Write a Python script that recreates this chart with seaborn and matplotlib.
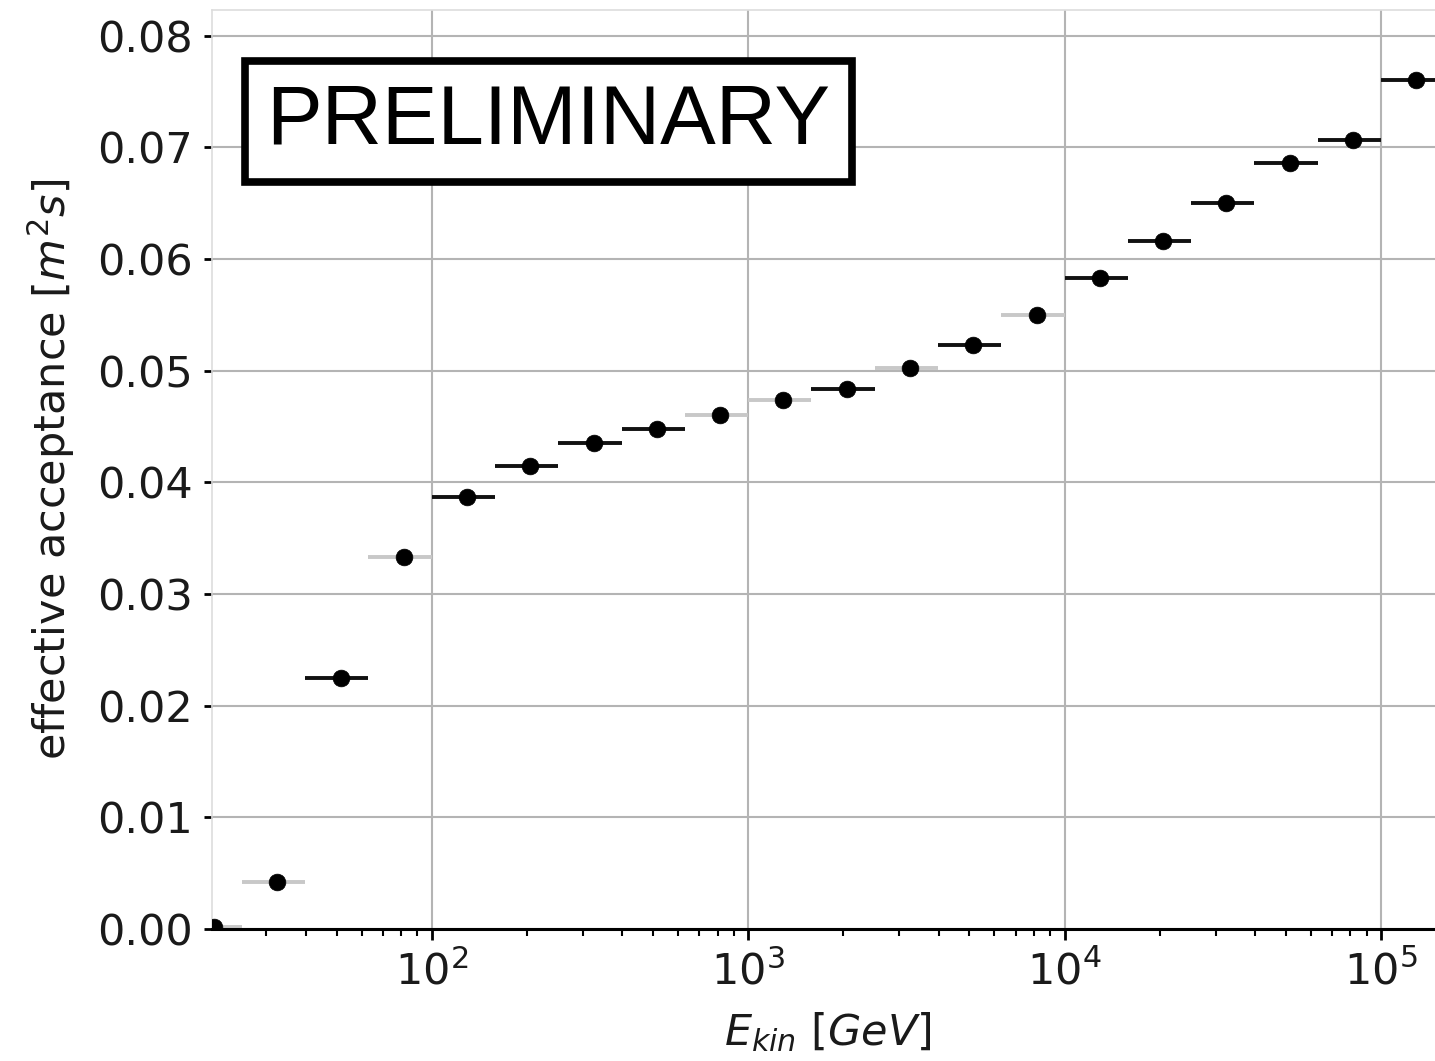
import matplotlib
matplotlib.use("Agg")
import matplotlib.pyplot as plt
import seaborn as sns
import numpy as np

# bin edges (GeV)
e_low = [15.85, 25.12, 39.81, 63.10, 100.0, 158.5, 251.2, 398.1, 631.0, 1000.0,
         1585.0, 2512.0, 3981.0, 6310.0, 10000.0, 15850.0, 25120.0, 39810.0, 63100.0, 100000.0]
e_high = [25.12, 39.81, 63.10, 100.0, 158.5, 251.2, 398.1, 631.0, 1000.0, 1585.0,
          2512.0, 3981.0, 6310.0, 10000.0, 15850.0, 25120.0, 39810.0, 63100.0, 100000.0, 158500.0]
e_center = [20.5, 32.5, 51.5, 81.5, 129.3, 204.9, 324.7, 514.6, 815.5, 1292.5,
            2048.5, 3246.5, 5145.5, 8155.0, 12925.0, 20485.0, 32465.0, 51455.0, 81550.0, 129250.0]
acceptance = [0.0002, 0.0042, 0.0225, 0.0333, 0.0387, 0.0415, 0.0435, 0.0448, 0.0460, 0.0474,
              0.0484, 0.0502, 0.0523, 0.0550, 0.0583, 0.0616, 0.0650, 0.0686, 0.0707, 0.0760]

# some bars render light grey in the reference
bar_colors = ["#c8c8c8", "#c8c8c8", "#111111", "#c8c8c8", "#111111", "#111111", "#111111",
              "#111111", "#c8c8c8", "#c8c8c8", "#111111", "#c8c8c8", "#111111", "#c8c8c8",
              "#111111", "#111111", "#111111", "#111111", "#111111", "#111111"]

sns.set_theme(style="whitegrid")
plt.rcParams['font.family'] = ['DejaVu Sans']
plt.rcParams['mathtext.fontset'] = 'dejavusans'

fig = plt.figure(figsize=(14.35, 10.61), dpi=100)
ax = fig.add_axes([0.1477, 0.1244, 0.8585, 0.8662])

ax.hlines(acceptance, e_low, e_high, colors=bar_colors, linewidth=2.8, zorder=2)
sns.scatterplot(x=e_center, y=acceptance, ax=ax, color="black", s=145,
                edgecolor="black", linewidth=0.5, zorder=3, legend=False)

ax.set_xscale("log")
ax.set_xlim(20.2, 1.58e5)
ax.set_ylim(0, 0.0823)
ax.set_yticks(np.arange(0, 0.081, 0.01))
ax.set_yticklabels([f"{v:.2f}" for v in np.arange(0, 0.081, 0.01)])

ax.grid(True, which="major", color="#b4b4b4", linewidth=1.5)
ax.grid(False, which="minor")

for side in ["left", "top", "right"]:
    ax.spines[side].set_color("#dddddd")
    ax.spines[side].set_linewidth(1.2)
ax.spines["bottom"].set_color("black")
ax.spines["bottom"].set_linewidth(2.2)

ax.tick_params(axis="both", which="major", labelsize=31, colors="#1a1a1a")
ax.tick_params(axis="x", which="major", bottom=True, length=8, width=2, color="black", pad=8)
ax.tick_params(axis="x", which="minor", bottom=True, length=5, width=1.5, color="black")
ax.tick_params(axis="y", which="major", left=True, length=6, width=2, color="black", pad=8)

ax.set_xlabel(r"$E_{kin}$ [$GeV$]", fontsize=31, color="#1a1a1a", labelpad=12)
ax.set_ylabel(r"effective acceptance [$m^2s$]", fontsize=31, color="#1a1a1a", labelpad=14)

ax.text(0.273, 0.879, "PRELIMINARY", transform=ax.transAxes, ha="center", va="center",
        fontsize=60, family="Liberation Sans", color="black", zorder=5,
        bbox=dict(boxstyle="square,pad=0.26", facecolor="white", edgecolor="black", linewidth=5.5))

fig.savefig("out.png", dpi=100)
